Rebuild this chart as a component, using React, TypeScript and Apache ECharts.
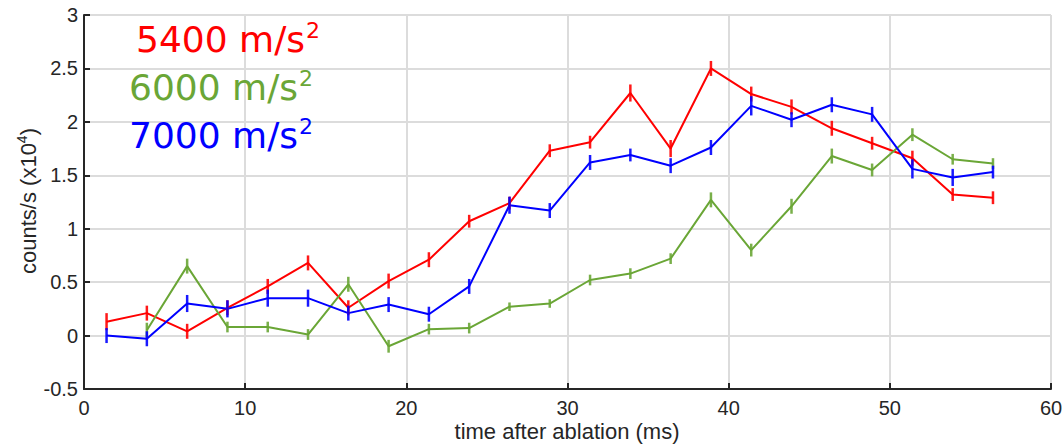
import React, { useEffect, useRef } from "react";
import * as echarts from "echarts";

const timesMs = [1.4, 3.9, 6.4, 8.9, 11.4, 13.9, 16.4, 18.9, 21.4, 23.9, 26.4, 28.9, 31.4, 33.9, 36.4, 38.9, 41.4, 43.9, 46.4, 48.9, 51.4, 53.9, 56.4];
const red5400 = [0.13, 0.21, 0.04, 0.26, 0.46, 0.68, 0.26, 0.51, 0.71, 1.07, 1.24, 1.73, 1.81, 2.27, 1.75, 2.50, 2.26, 2.14, 1.94, 1.80, 1.66, 1.32, 1.29];
const redErr = [0.08, 0.07, 0.07, 0.07, 0.07, 0.07, 0.07, 0.07, 0.07, 0.06, 0.06, 0.06, 0.06, 0.08, 0.08, 0.07, 0.07, 0.07, 0.07, 0.06, 0.07, 0.06, 0.06];
const green6000 = [null, 0.05, 0.65, 0.08, 0.08, 0.01, 0.48, -0.10, 0.06, 0.07, 0.27, 0.30, 0.52, 0.58, 0.72, 1.27, 0.80, 1.21, 1.68, 1.55, 1.88, 1.65, 1.61];
const greenErr = [0, 0.07, 0.07, 0.05, 0.05, 0.05, 0.07, 0.06, 0.05, 0.05, 0.04, 0.04, 0.05, 0.05, 0.05, 0.07, 0.06, 0.07, 0.07, 0.06, 0.06, 0.05, 0.05];
const blue7000 = [0.00, -0.03, 0.30, 0.25, 0.35, 0.35, 0.21, 0.29, 0.20, 0.46, 1.22, 1.17, 1.62, 1.69, 1.59, 1.76, 2.15, 2.02, 2.16, 2.07, 1.56, 1.48, 1.53];
const blueErr = [0.07, 0.07, 0.08, 0.08, 0.08, 0.08, 0.07, 0.07, 0.07, 0.07, 0.08, 0.07, 0.07, 0.06, 0.07, 0.07, 0.09, 0.07, 0.07, 0.07, 0.09, 0.08, 0.06];
const seriesNames = ["5400", "6000", "7000"];
const xTicks = [0, 10, 20, 30, 40, 50, 60];
const yTicks = [-0.5, 0, 0.5, 1, 1.5, 2, 2.5, 3];
const xTitle = "time after ablation (ms)";

const RED = "#ff0000";
const GREEN = "#6aa636";
const BLUE = "#0000ff";
const FONT = "'Liberation Sans', Arial, sans-serif";
const AXIS = "#262626";

function lineSeries(name: string, vals: (number | null)[], color: string) {
  return {
    name,
    type: "line",
    data: timesMs.map((t, i) => (vals[i] == null ? null : [t, vals[i]])).filter((d) => d !== null),
    showSymbol: false,
    symbol: "none",
    lineStyle: { color, width: 2 },
    z: 3,
  };
}

function errSeries(name: string, vals: (number | null)[], errs: number[], color: string) {
  const data = timesMs
    .map((t, i) => (vals[i] == null ? null : [t, vals[i] as number, errs[i]]))
    .filter((d) => d !== null);
  return {
    name: name + "-err",
    type: "custom",
    data,
    z: 4,
    renderItem: (params: any, api: any) => {
      const x = api.value(0);
      const y = api.value(1);
      const e = api.value(2);
      const p1 = api.coord([x, y - e]);
      const p2 = api.coord([x, y + e]);
      return {
        type: "line",
        shape: { x1: p1[0], y1: p1[1], x2: p2[0], y2: p2[1] },
        style: { stroke: color, lineWidth: 2.5, opacity: 0.9 },
      };
    },
  };
}

export default function App() {
  const ref = useRef<HTMLDivElement>(null);
  useEffect(() => {
    document.body.style.margin = "0";
    const chart = echarts.init(ref.current!, null, { renderer: "svg" });
    const legendItems = [
      { label: seriesNames[0], color: RED, x: 136, y: 19 },
      { label: seriesNames[1], color: GREEN, x: 129, y: 67 },
      { label: seriesNames[2], color: BLUE, x: 129, y: 115 },
    ];
    chart.setOption({
      animation: false,
      grid: { left: 84, right: 12, top: 15, bottom: 55, outerBoundsMode: "none", containLabel: false },
      xAxis: {
        type: "value",
        min: xTicks[0],
        max: xTicks[xTicks.length - 1],
        interval: 10,
        axisLine: { onZero: false, lineStyle: { color: AXIS, width: 2 } },
        axisTick: { inside: true, length: 6, lineStyle: { color: AXIS, width: 2 } },
        axisLabel: { fontFamily: FONT, fontSize: 20, color: AXIS, margin: 9 },
        splitLine: { show: true, lineStyle: { color: "#dcdcdc", width: 2 } },
      },
      yAxis: {
        type: "value",
        min: yTicks[0],
        max: yTicks[yTicks.length - 1],
        interval: 0.5,
        axisLine: { show: true, onZero: false, lineStyle: { color: AXIS, width: 2 } },
        axisTick: { show: true, inside: true, length: 6, lineStyle: { color: AXIS, width: 2 } },
        axisLabel: { fontFamily: FONT, fontSize: 20, color: AXIS, margin: 6 },
        splitLine: { show: true, lineStyle: { color: "#dcdcdc", width: 2 } },
      },
      graphic: [
        ...legendItems.map((it) => ({
          type: "text",
          left: it.x,
          top: it.y,
          z: 10,
          style: {
            text: `{a|${it.label} m/s}{b|2}`,
            rich: {
              a: { fontFamily: "'DejaVu Sans', sans-serif", fontSize: 36, fill: it.color, lineHeight: 40 },
              b: { fontFamily: "'DejaVu Sans', sans-serif", fontSize: 22, fill: it.color, verticalAlign: "top", lineHeight: 22, padding: [0, 0, 18, 1] },
            },
          },
        })),
        {
          type: "text",
          x: 567,
          y: 442,
          z: 10,
          style: {
            text: xTitle,
            align: "center",
            verticalAlign: "bottom",
            fontFamily: FONT,
            fontSize: 22,
            fill: AXIS,
          },
        },
        {
          type: "text",
          x: 28,
          y: 201,
          rotation: Math.PI / 2,
          z: 10,
          style: {
            text: "{a|counts/s (x10}{b|4}{a|)}",
            align: "center",
            verticalAlign: "middle",
            rich: {
              a: { fontFamily: FONT, fontSize: 22, fill: AXIS },
              b: { fontFamily: FONT, fontSize: 14, fill: AXIS, padding: [0, 0, 12, 0] },
            },
          },
        },
      ],
      series: [
        lineSeries(seriesNames[0], red5400, RED),
        lineSeries(seriesNames[1], green6000, GREEN),
        lineSeries(seriesNames[2], blue7000, BLUE),
        errSeries(seriesNames[0], red5400, redErr, RED),
        errSeries(seriesNames[1], green6000, greenErr, GREEN),
        errSeries(seriesNames[2], blue7000, blueErr, BLUE),
      ],
    });
    return () => chart.dispose();
  }, []);
  return <div ref={ref} style={{ width: 1063, height: 444 }} />;
}
